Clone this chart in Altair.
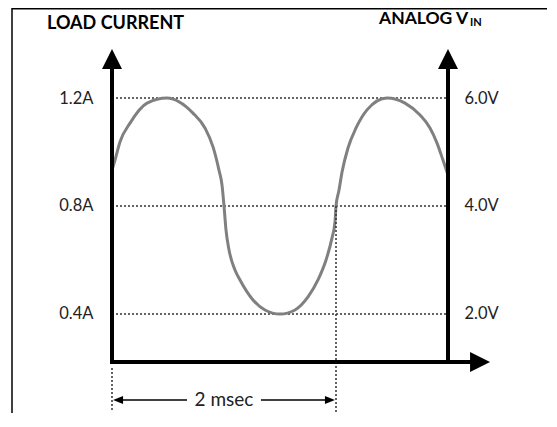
import altair as alt
import pandas as pd

# ---------------- data ----------------
time_ms = [0.0, 0.027, 0.071, 0.161, 0.313, 0.491, 0.723, 0.830, 0.902, 0.955,
           0.982, 1.0, 1.018, 1.045, 1.098, 1.143, 1.259, 1.366, 1.5, 1.634,
           1.75, 1.839, 1.911, 1.964, 1.991, 2.0, 2.027, 2.054, 2.107, 2.179,
           2.277, 2.455, 2.616, 2.75, 2.839, 2.902, 2.955, 3.0]
current_a = [0.933, 0.970, 1.037, 1.107, 1.181, 1.2, 1.144, 1.089, 1.019, 0.933,
             0.878, 0.8, 0.711, 0.637, 0.563, 0.526, 0.452, 0.415, 0.4, 0.415,
             0.463, 0.526, 0.6, 0.681, 0.741, 0.8, 0.859, 0.926, 1.015, 1.089,
             1.156, 1.2, 1.181, 1.137, 1.089, 1.033, 0.970, 0.915]

tick_values = [1.2, 0.8, 0.4]
current_labels = ["1.2A", "0.8A", "0.4A"]
voltage_labels = ["6.0V", "4.0V", "2.0V"]
span_ms = [0.0, 2.0]
span_label = "2 msec"
left_title = "LOAD CURRENT"
right_title_main = "ANALOG V"
right_title_sub = "IN"

# ---------------- layout / style constants ----------------
T_MIN, T_MAX = 0.0, 3.0
I_MIN, I_MAX = 0.2222, 1.3852
FONT = "Lato"

xs = alt.Scale(domain=[T_MIN, T_MAX], nice=False, zero=False)
ys = alt.Scale(domain=[I_MIN, I_MAX], nice=False, zero=False)


def label_expr(vals, labels):
    parts = [f"abs(datum.value - {v}) < 0.01 ? '{l}'" for v, l in zip(vals, labels)]
    return " : ".join(parts) + " : ''"


left_axis = alt.Axis(orient="left", values=tick_values, labelExpr=label_expr(tick_values, current_labels),
                     domain=False, ticks=False, grid=False, labelPadding=19, title=None,
                     labelFont=FONT, labelFontSize=16.5, labelColor="#222222")
right_axis = alt.Axis(orient="right", values=tick_values, labelExpr=label_expr(tick_values, voltage_labels),
                      domain=False, ticks=False, grid=False, labelPadding=16, title=None,
                      labelFont=FONT, labelFontSize=16.5, labelColor="#222222")

# dotted reference lines
grid_df = pd.DataFrame({"t0": T_MIN, "t1": T_MAX, "I": tick_values})
grid = alt.Chart(grid_df).mark_rule(strokeDash=[2, 2], strokeWidth=1.5, color="#333333").encode(
    x=alt.X("t0:Q", scale=xs, axis=None), x2="t1:Q",
    y=alt.Y("I:Q", scale=ys, axis=right_axis))

curve_df = pd.DataFrame({"t": time_ms, "I": current_a})
curve = alt.Chart(curve_df).mark_line(interpolate="monotone", color="#808080", strokeWidth=3).encode(
    x=alt.X("t:Q", scale=xs, axis=None),
    y=alt.Y("I:Q", scale=ys, axis=left_axis))

# axis lines
ARROW_BASE_I = 1.307
axes_df = pd.DataFrame({"x": [T_MIN, T_MAX, T_MIN], "x2": [T_MIN, T_MAX, 3.2],
                        "y": [I_MIN, I_MIN, I_MIN], "y2": [ARROW_BASE_I, ARROW_BASE_I, I_MIN]})
axes_lines = alt.Chart(axes_df).mark_rule(strokeWidth=4, color="black", strokeCap="square").encode(
    x=alt.X("x:Q", scale=xs, axis=None), x2="x2:Q",
    y=alt.Y("y:Q", scale=ys, axis=None), y2="y2:Q")

up_df = pd.DataFrame({"x": [T_MIN, T_MAX], "y": [1.344, 1.344]})
up_arrows = alt.Chart(up_df).mark_point(shape="M0,-1L1,1L-1,1Z", filled=True, size=400,
                                        color="black", opacity=1).encode(
    x=alt.X("x:Q", scale=xs, axis=None), y=alt.Y("y:Q", scale=ys, axis=None))

right_df = pd.DataFrame({"x": [3.286], "y": [I_MIN]})
right_arrow = alt.Chart(right_df).mark_point(shape="M1,0L-1,-1L-1,1Z", filled=True, size=400,
                                             color="black", opacity=1).encode(
    x=alt.X("x:Q", scale=xs, axis=None), y=alt.Y("y:Q", scale=ys, axis=None))

# 2 msec span markers
vdf = pd.DataFrame({"x": span_ms, "y": [0.2, 0.8], "y2": [0.037, 0.0148]})
vlines = alt.Chart(vdf).mark_rule(strokeDash=[2, 2], strokeWidth=1.5, color="#333333").encode(
    x=alt.X("x:Q", scale=xs, axis=None), y=alt.Y("y:Q", scale=ys, axis=None), y2="y2:Q")

SPAN_I = 0.0815
sdf = pd.DataFrame({"x": [0.054, 1.33], "x2": [0.67, 1.946], "y": [SPAN_I, SPAN_I]})
span_lines = alt.Chart(sdf).mark_rule(strokeWidth=1.5, color="black").encode(
    x=alt.X("x:Q", scale=xs, axis=None), x2="x2:Q", y=alt.Y("y:Q", scale=ys, axis=None))

la_df = pd.DataFrame({"x": [0.054], "y": [SPAN_I]})
left_small = alt.Chart(la_df).mark_point(shape="M-1,0L1,-0.8L1,0.8Z", filled=True, size=100,
                                         color="black", opacity=1).encode(
    x=alt.X("x:Q", scale=xs, axis=None), y=alt.Y("y:Q", scale=ys, axis=None))
ra_df = pd.DataFrame({"x": [1.946], "y": [SPAN_I]})
right_small = alt.Chart(ra_df).mark_point(shape="M1,0L-1,-0.8L-1,0.8Z", filled=True, size=100,
                                          color="black", opacity=1).encode(
    x=alt.X("x:Q", scale=xs, axis=None), y=alt.Y("y:Q", scale=ys, axis=None))

span_text = alt.Chart(pd.DataFrame({"x": [sum(span_ms) / 2], "y": [SPAN_I], "s": [span_label]})).mark_text(
    font=FONT, fontSize=19, color="#222222", align="center", baseline="middle").encode(
    x=alt.X("x:Q", scale=xs, axis=None), y=alt.Y("y:Q", scale=ys, axis=None), text="s:N")

# titles
lt = alt.Chart(pd.DataFrame({"x": [-0.58], "y": [1.457], "s": [left_title]})).mark_text(
    font=FONT, fontSize=18, fontWeight="bold", color="black", align="left", baseline="alphabetic").encode(
    x=alt.X("x:Q", scale=xs, axis=None), y=alt.Y("y:Q", scale=ys, axis=None), text="s:N")
rt = alt.Chart(pd.DataFrame({"x": [3.179], "y": [1.474], "s": [right_title_main]})).mark_text(
    font=FONT, fontSize=17.5, fontWeight="bold", color="black", align="right", baseline="alphabetic").encode(
    x=alt.X("x:Q", scale=xs, axis=None), y=alt.Y("y:Q", scale=ys, axis=None), text="s:N")
rts = alt.Chart(pd.DataFrame({"x": [3.196], "y": [1.468], "s": [right_title_sub]})).mark_text(
    font=FONT, fontSize=11, fontWeight="bold", color="black", align="left", baseline="alphabetic").encode(
    x=alt.X("x:Q", scale=xs, axis=None), y=alt.Y("y:Q", scale=ys, axis=None), text="s:N")

# outer frame (decoration)
frame_left = alt.Chart(pd.DataFrame({"k": [0]})).mark_rule(color="black", strokeWidth=1.5).encode(
    x=alt.value(-100), y=alt.value(-40), y2=alt.value(370))
frame_top = alt.Chart(pd.DataFrame({"k": [0]})).mark_rule(color="black", strokeWidth=1.5).encode(
    x=alt.value(-100), x2=alt.value(440), y=alt.value(-39.2))

chart = alt.layer(
    grid, curve, vlines, axes_lines, up_arrows, right_arrow, span_lines, left_small, right_small,
    span_text, lt, rt, rts, frame_left, frame_top
).resolve_scale(y="shared").resolve_axis(y="independent").properties(
    width=336, height=314,
    autosize=alt.AutoSizeParams(type="none"),
    padding={"left": 104, "top": 40, "right": 99, "bottom": 51},
    background="white",
).configure_view(stroke=None)

chart.save("out.html", embed_options={"renderer": "svg", "actions": False})
